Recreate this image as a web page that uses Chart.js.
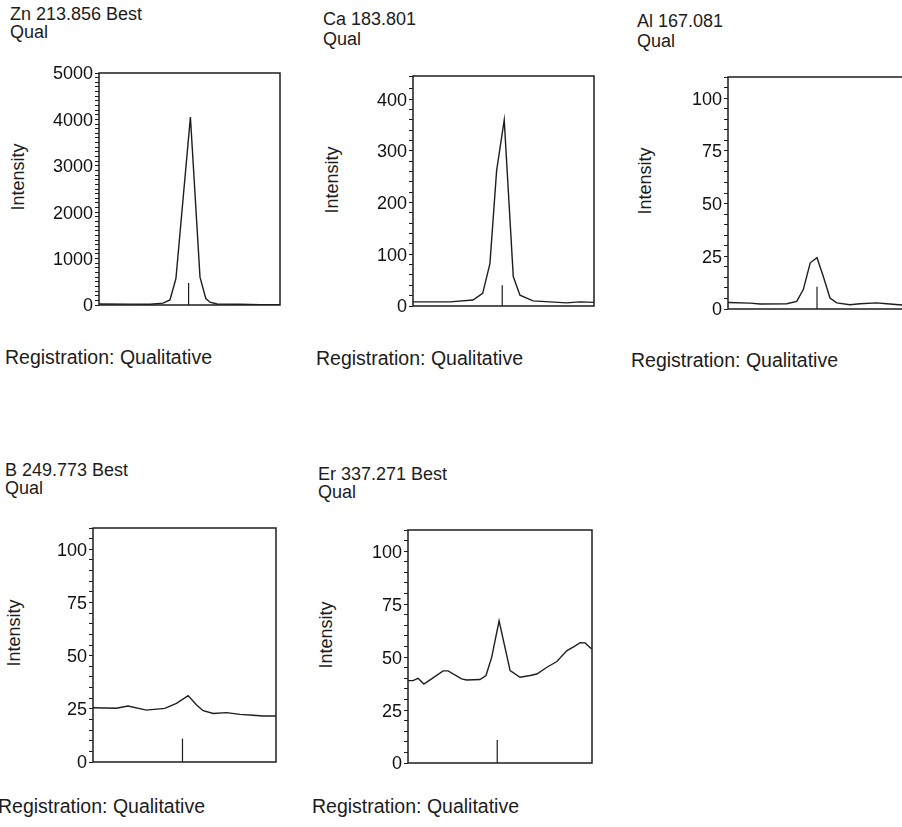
<!DOCTYPE html>
<html>
<head>
<meta charset="utf-8">
<title>Qual scans</title>
<script src="https://cdn.jsdelivr.net/npm/chart.js@4.4.1/dist/chart.umd.min.js"></script>
<style>
  html, body { margin: 0; padding: 0; background: #fff; }
  body { width: 902px; height: 827px; position: relative; overflow: hidden;
         font-family: "Liberation Sans", Arial, sans-serif; color: #1c1c1c; }
  .txt { position: absolute; white-space: nowrap; font-size: 18px; line-height: 18px; }
  .reg { position: absolute; white-space: nowrap; font-size: 19.5px; line-height: 20px; }
  .ylab { position: absolute; white-space: nowrap; font-size: 18px; line-height: 18px;
          transform: translate(-50%, -50%) rotate(-90deg); }
  canvas { position: absolute; }
</style>
</head>
<body>

<div class="txt" style="left:10px;top:5px">Zn 213.856 Best</div>
<div class="txt" style="left:10px;top:23px">Qual</div>
<div class="txt" style="left:323px;top:10px">Ca 183.801</div>
<div class="txt" style="left:323px;top:30px">Qual</div>
<div class="txt" style="left:637px;top:12px">Al 167.081</div>
<div class="txt" style="left:637px;top:32px">Qual</div>
<div class="txt" style="left:5px;top:461px">B 249.773 Best</div>
<div class="txt" style="left:5px;top:479px">Qual</div>
<div class="txt" style="left:318px;top:465px">Er 337.271 Best</div>
<div class="txt" style="left:318px;top:483px">Qual</div>

<div class="ylab" style="left:18px;top:177px">Intensity</div>
<div class="ylab" style="left:332px;top:180px">Intensity</div>
<div class="ylab" style="left:645px;top:181px">Intensity</div>
<div class="ylab" style="left:14px;top:633px">Intensity</div>
<div class="ylab" style="left:326px;top:635px">Intensity</div>

<div class="reg" style="left:5px;top:347px">Registration: Qualitative</div>
<div class="reg" style="left:316px;top:348px">Registration: Qualitative</div>
<div class="reg" style="left:631px;top:350px">Registration: Qualitative</div>
<div class="reg" style="left:-2px;top:796px">Registration: Qualitative</div>
<div class="reg" style="left:312px;top:796px">Registration: Qualitative</div>

<canvas id="zn"></canvas>
<canvas id="ca"></canvas>
<canvas id="al"></canvas>
<canvas id="b"></canvas>
<canvas id="er"></canvas>

<script>
// scan window: offset from the line centre (-50 .. 50), intensity
const znOffset = [-50, -32.9, -21.8, -14.6, -10.8, -7.5, 0.5, 5.8, 9, 11.3, 15.2, 27.9, 39, 50]
const znIntensity = [20, 18, 15, 40, 108, 570, 4050, 600, 140, 60, 22, 15, 8, 5]

const caOffset = [-50, -29.6, -16.9, -11.5, -7.5, -3.8, 0.4, 5.4, 9.1, 16.3, 34.9, 42.3, 50]
const caIntensity = [8, 8, 11.5, 24.5, 82, 262, 360, 57, 21, 10, 6, 8, 7]

const alOffset = [-50, -37.6, -32, -17, -11.4, -7.7, -3.8, 0, 3.5, 7.3, 11.1, 18.5, 24.2, 33.5, 39.2, 47.8, 50]
const alIntensity = [3.1, 2.8, 2.4, 2.5, 3.6, 9.2, 21.9, 24.3, 15.5, 5.2, 2.9, 2, 2.5, 2.9, 2.5, 1.9, 2]

const bOffset = [-50, -37.2, -30.9, -20.8, -10.8, -4.4, 2, 6.6, 10.2, 15.7, 23, 30.3, 37.5, 43, 50]
const bIntensity = [25.5, 25.3, 26.3, 24.4, 25.2, 27.6, 31.2, 26.8, 24.1, 22.8, 23.2, 22.4, 22, 21.6, 21.6]

const erOffset = [-50, -47.3, -44.5, -41.4, -37.2, -30.9, -28.2, -20.9, -18.2, -10.9, -7.6, -4.5, -0.5,
  5.5, 10.9, 16.4, 20, 25.5, 30.9, 36.4, 40, 43.6, 46.3, 49.1, 50]
const erIntensity = [38.9, 38.9, 40, 37.3, 39.7, 43.5, 43.5, 39.7, 39.2, 39.4, 41.3, 50, 67.1,
  43.6, 40.5, 41.3, 42, 45.2, 47.9, 53.1, 54.8, 56.8, 56.7, 54.3, 54]

// one entry per panel: zn, ca, al, b, er
const peakMarkAt = [-0.5, -0.7, 0, -1.1, -1.5]
const peakMarkHeight = [475, 40, 10.5, 11, 10.8]
const axisMax = [5000, 445, 110, 110, 110]
const majorStep = [1000, 100, 25, 25, 25]
const minorStep = [100, 20, 5, 5, 5]

const ink = '#1e1e1e'
const axisW = 56
const padTop = 14, padBottom = 14, padRight = 4

// plot frame on the page: left, top, right, bottom
const frames = {
  zn: [99, 73, 280, 305],
  ca: [413, 76, 594, 306],
  al: [728, 77, 906, 309],
  b:  [93, 528, 276, 762],
  er: [408, 530, 592, 763]
}

const framePlugin = {
  id: 'frame',
  afterDraw(chart) {
    const { ctx, chartArea: a } = chart
    ctx.save()
    ctx.strokeStyle = ink
    ctx.lineWidth = 1.5
    ctx.strokeRect(a.left, a.top, a.right - a.left, a.bottom - a.top)
    ctx.restore()
  }
}

function drawPanel(id, i, offsets, values) {
  const [l, t, r, b] = frames[id]
  const canvas = document.getElementById(id)
  canvas.width = axisW + (r - l) + padRight
  canvas.height = padTop + (b - t) + padBottom
  canvas.style.left = (l - axisW) + 'px'
  canvas.style.top = (t - padTop) + 'px'

  const points = offsets.map((x, k) => ({ x: x, y: values[k] }))
  const mark = [{ x: peakMarkAt[i], y: 0 }, { x: peakMarkAt[i], y: peakMarkHeight[i] }]

  new Chart(canvas, {
    type: 'line',
    data: {
      datasets: [
        { data: points, borderColor: ink, borderWidth: 1.4, pointRadius: 0, tension: 0 },
        { data: mark, borderColor: ink, borderWidth: 1.2, pointRadius: 0 }
      ]
    },
    options: {
      responsive: false,
      animation: false,
      layout: { padding: { top: padTop, bottom: padBottom, left: 0, right: padRight } },
      scales: {
        x: { type: 'linear', min: -50, max: 50, display: false },
        y: {
          type: 'linear',
          min: 0,
          max: axisMax[i],
          afterFit: s => { s.width = axisW },
          border: { display: false },
          grid: { drawOnChartArea: false, drawTicks: true, tickLength: 4, color: ink },
          ticks: {
            stepSize: minorStep[i],
            autoSkip: false,
            padding: 2,
            labelOffset: 1.5,
            color: '#111',
            font: { family: '"Liberation Sans", Arial, sans-serif', size: 18 },
            callback: v => (v % majorStep[i] === 0 ? v : '')
          }
        }
      },
      plugins: { legend: { display: false }, tooltip: { enabled: false } }
    },
    plugins: [framePlugin]
  })
}

drawPanel('zn', 0, znOffset, znIntensity)
drawPanel('ca', 1, caOffset, caIntensity)
drawPanel('al', 2, alOffset, alIntensity)
drawPanel('b', 3, bOffset, bIntensity)
drawPanel('er', 4, erOffset, erIntensity)
</script>
</body>
</html>
